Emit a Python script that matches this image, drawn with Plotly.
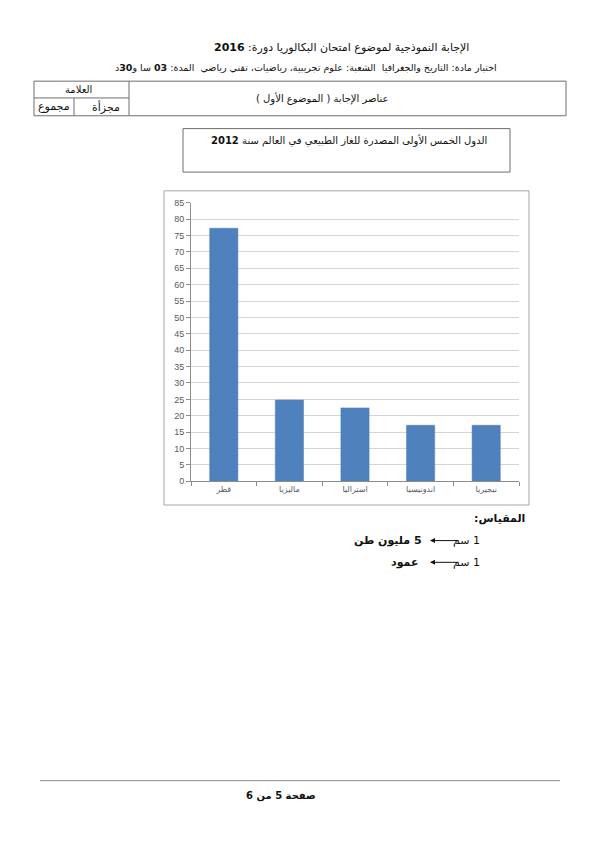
import plotly.graph_objects as go

# ---- data ----
countries = ["قطر", "ماليزيا", "استراليا", "اندونيسيا", "نيجيريا"]
exports = [77.2, 24.8, 22.4, 17.1, 17.1]
y_ticks = list(range(0, 90, 5))

# page is 600x848; body has an 8px margin, so the figure is 584x832
W, H = 584, 832
OFF = 8
RLE, PDF = "\u202B", "\u202C"


def rtl(s):
    return RLE + s + PDF


def px(x):
    return (x - OFF) / W


def py(y):
    return 1 - (y - OFF) / H


AR = "DejaVu Sans"

fig = go.Figure()
fig.add_trace(go.Bar(
    x=countries, y=exports,
    marker=dict(color="#4f81bd", line=dict(color="#4a7ab3", width=0.5)),
    width=0.43,
))

fig.update_layout(
    width=W, height=H,
    margin=dict(l=0, r=0, t=0, b=0),
    paper_bgcolor="white", plot_bgcolor="white",
    showlegend=False,
    xaxis=dict(
        domain=[px(191), px(519)],
        showline=True, linecolor="#8c8c8c", linewidth=1,
        ticks="outside", tickson="boundaries", ticklen=4, tickcolor="#8c8c8c",
        tickfont=dict(family=AR, size=8, color="#595959"),
        showgrid=False,
    ),
    yaxis=dict(
        domain=[py(482), py(200)],
        range=[0, 85],
        tickvals=y_ticks,
        showline=True, linecolor="#8c8c8c", linewidth=1,
        ticks="outside", ticklen=4, tickcolor="#8c8c8c",
        tickfont=dict(family="Liberation Sans", size=9, color="#595959"),
        showgrid=True, gridcolor="#d4d4d4", gridwidth=1,
        zeroline=False,
    ),
)

shapes = []


def rect(x0, y0, x1, y1, color="#8a8a8a", w=1):
    shapes.append(dict(type="rect", xref="paper", yref="paper",
                       x0=px(x0), x1=px(x1), y0=py(y0), y1=py(y1),
                       line=dict(color=color, width=w)))


def line(x0, y0, x1, y1, color="#8a8a8a", w=1):
    shapes.append(dict(type="line", xref="paper", yref="paper",
                       x0=px(x0), x1=px(x1), y0=py(y0), y1=py(y1),
                       line=dict(color=color, width=w)))


# header table
rect(34, 77, 566, 112, color="#6e6e6e")
line(129, 77, 129, 112, color="#6e6e6e")
line(34, 94, 129, 94, color="#6e6e6e")
line(74, 94, 74, 112, color="#6e6e6e")
# title box
rect(183, 125, 510, 169, color="#6e6e6e")
# chart box
rect(164, 188, 529, 506, color="#a6a6a6")
# footer line
line(40, 785, 560, 785, color="#8a8a8a")

fig.update_layout(shapes=shapes)

ann = []


def text(x, y, s, size=11, anchor="center", color="#111111", fam=AR):
    ann.append(dict(xref="paper", yref="paper", x=px(x), y=py(y), text=rtl(s),
                    showarrow=False, xanchor=anchor, yanchor="middle",
                    font=dict(family=fam, size=size, color=color)))


text(341, 43, "الإجابة النموذجية لموضوع امتحان البكالوريا دورة: <b>2016</b>", size=11)
text(306, 63, "اختبار مادة: التاريخ والجغرافيا  الشعبة: علوم تجريبية، رياضيات، تقني رياضي  المدة: <b>03</b> سا و<b>30</b>د", size=9.5)
text(78, 85, "العلامة", size=10)
text(106, 103, "مجزأة", size=11)
text(54, 103, "مجموع", size=11)
text(322, 95, "عناصر الإجابة ( الموضوع الأول )", size=10)
text(349, 137, "الدول الخمس الأولى المصدرة للغاز الطبيعي في العالم سنة <b>2012</b>", size=10)
text(527, 520, "<b>المقياس:</b>", size=11, anchor="right")
text(482, 542, "1 سم", size=11, anchor="right")
text(424, 542, "<b>5 مليون طن</b>", size=11, anchor="right")
text(482, 564, "1 سم", size=11, anchor="right")
text(420, 564, "<b>عمود</b>", size=11, anchor="right")
text(281, 801, "<b>صفحة 5 من 6</b>", size=10)

# scale arrows
for yy in (542, 564):
    ann.append(dict(xref="paper", yref="paper", x=px(430), y=py(yy), text="",
                    showarrow=True, ax=30, ay=0, arrowhead=2, arrowsize=1,
                    arrowwidth=1, arrowcolor="#111111"))

fig.update_layout(annotations=ann)
fig.write_html("out.html")
